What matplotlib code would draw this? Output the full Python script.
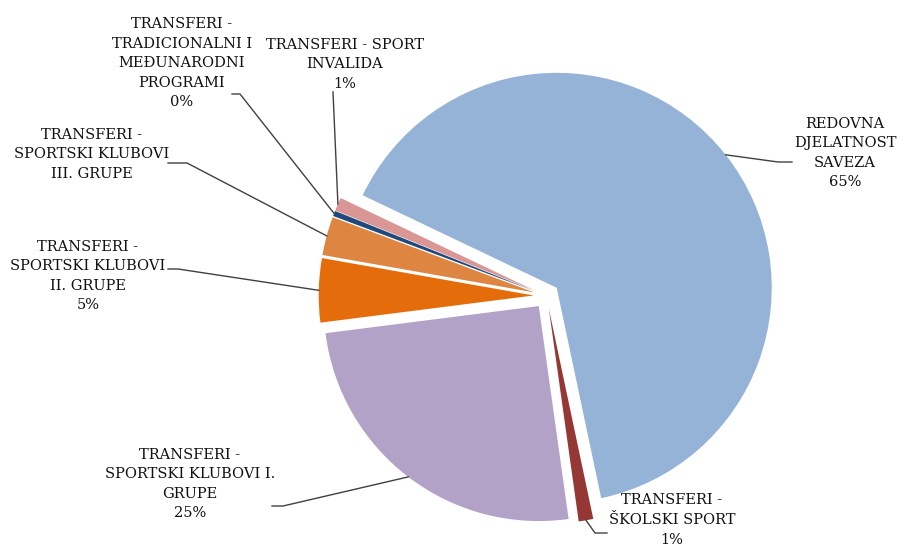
import matplotlib.pyplot as plt
import numpy as np

# slices, clockwise from the upper-left edge of the big slice
names = [
    "REDOVNA\nDJELATNOST\nSAVEZA",
    "TRANSFERI -\nŠKOLSKI SPORT",
    "TRANSFERI -\nSPORTSKI KLUBOVI I.\nGRUPE",
    "TRANSFERI -\nSPORTSKI KLUBOVI\nII. GRUPE",
    "TRANSFERI -\nSPORTSKI KLUBOVI\nIII. GRUPE",
    "TRANSFERI -\nTRADICIONALNI I\nMEĐUNARODNI\nPROGRAMI",
    "TRANSFERI - SPORT\nINVALIDA",
]
shares = [64.6, 1.1, 25.2, 4.8, 2.9, 0.4, 1.0]
show_pct = [True, True, True, True, False, True, True]
colors = ["#95B3D7", "#953735", "#B3A2C7", "#E46C0A", "#DE8641", "#1F497D", "#D99694"]

# layout in pixels of the 905x547 image
W, H = 905, 547
CX, CY, R = 546.6, 295.8, 215.0
# (text centre, leader points from label side toward the slice)
label_layout = [
    ((845, 153), [(792, 162), (778, 162)]),
    ((672, 520), [(607, 533), (595, 533)]),
    ((190, 484), [(272, 506), (283, 506)]),
    ((88, 276), [(168, 269), (178, 269)]),
    ((92, 154), [(168, 163), (187, 163)]),
    ((182, 63), [(232, 94), (240, 94)]),
    ((345, 64), [(333, 92)]),
]


def px(p):
    return ((p[0] - CX) / R, (CY - p[1]) / R)


fig = plt.figure(figsize=(W / 100, H / 100), dpi=100)
ax = fig.add_axes([0, 0, 1, 1])

wedges, _ = ax.pie(
    shares,
    colors=colors,
    startangle=154.5,
    counterclock=False,
    explode=[0.06] * len(shares),
    radius=1.0,
    wedgeprops=dict(linewidth=0),
)

for w, name, val, show, (tc, pts) in zip(wedges, names, shares, show_pct, label_layout):
    mid = np.deg2rad((w.theta1 + w.theta2) / 2)
    attach = (w.center[0] + w.r * np.cos(mid), w.center[1] + w.r * np.sin(mid))
    line = [px(p) for p in pts] + [attach]
    ax.plot([p[0] for p in line], [p[1] for p in line], color="#404040", lw=1.0)
    text = name + (f"\n{val:.0f}%" if show else "")
    tx, ty = px(tc)
    ax.text(tx, ty, text, ha="center", va="center", family="DejaVu Serif",
            fontsize=10.5, linespacing=1.5, color="#111111")

ax.set_xlim(-CX / R, (W - CX) / R)
ax.set_ylim(-(H - CY) / R, CY / R)
ax.set_aspect("equal")
ax.axis("off")

fig.savefig("out.png", dpi=100)
